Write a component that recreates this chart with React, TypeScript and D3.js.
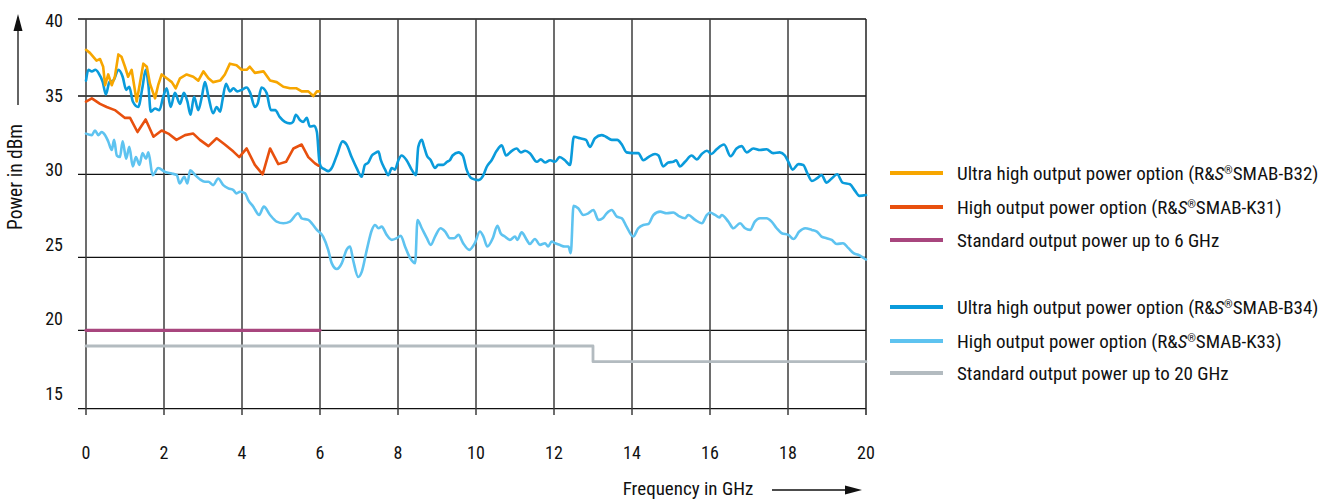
import React, { useEffect, useRef } from 'react';
import * as d3 from 'd3';

type Pt = [number, number];

// Frequency in GHz, power in dBm
const b32: Pt[] = [
  [0, 38.0], [0.1, 37.8], [0.27, 37.3], [0.36, 37.4], [0.44, 36.9], [0.49, 35.7], [0.57, 36.4], [0.66, 35.7],
  [0.74, 36.25], [0.83, 37.7], [0.91, 37.55], [1.0, 36.9], [1.08, 36.25], [1.17, 36.7], [1.3, 34.65], [1.38, 35.8],
  [1.47, 37.1], [1.56, 36.9], [1.64, 35.8], [1.77, 34.85], [1.85, 35.7], [1.94, 36.4], [2.07, 36.15], [2.2, 35.9],
  [2.3, 35.5], [2.41, 36.15], [2.58, 36.4], [2.75, 36.25], [2.88, 36.0], [3.01, 36.6], [3.14, 36.15], [3.26, 35.9],
  [3.44, 36.0], [3.56, 36.4], [3.69, 37.1], [3.86, 37.0], [3.99, 36.7], [4.12, 36.7], [4.2, 36.9], [4.33, 36.5],
  [4.55, 36.6], [4.72, 36.0], [4.89, 35.9], [5.06, 35.6], [5.23, 35.5], [5.4, 35.5], [5.53, 35.3], [5.7, 35.3],
  [5.83, 35.0], [5.92, 35.3], [5.98, 35.3],
];

const k31: Pt[] = [
  [0, 34.64], [0.15, 34.85], [0.36, 34.5], [0.53, 34.3], [0.74, 34.1], [1.0, 33.6], [1.13, 33.6], [1.32, 32.7],
  [1.53, 33.5], [1.73, 32.4], [1.94, 32.8], [2.11, 32.6], [2.32, 32.2], [2.54, 32.5], [2.75, 32.6], [2.92, 32.2],
  [3.14, 31.8], [3.35, 32.3], [3.56, 31.9], [3.78, 31.45], [3.93, 31.1], [4.12, 31.65], [4.33, 30.6], [4.53, 30.0],
  [4.72, 31.65], [4.93, 30.65], [5.13, 30.8], [5.32, 31.65], [5.53, 31.9], [5.7, 31.1], [5.87, 30.7], [5.96, 30.55],
];

const std6: Pt[] = [[0, 20], [6, 20]];

const b34: Pt[] = [
  [0, 36.0], [0.06, 36.7], [0.15, 36.6], [0.24, 36.7], [0.32, 36.5], [0.43, 35.9], [0.51, 35.1], [0.6, 35.9],
  [0.7, 36.0], [0.83, 36.7], [0.94, 36.25], [1.03, 35.4], [1.11, 35.6], [1.2, 34.65], [1.34, 34.3], [1.45, 35.6],
  [1.53, 36.7], [1.6, 35.7], [1.66, 34.0], [1.77, 34.2], [1.88, 34.1], [1.98, 34.95], [2.07, 35.5], [2.17, 34.3],
  [2.28, 35.2], [2.41, 34.5], [2.51, 35.2], [2.6, 34.65], [2.68, 33.8], [2.77, 34.95], [2.88, 34.1], [2.97, 34.95],
  [3.05, 35.9], [3.14, 34.95], [3.26, 33.9], [3.35, 34.3], [3.44, 34.0], [3.5, 34.75], [3.59, 35.8], [3.69, 35.3],
  [3.78, 35.5], [3.88, 35.3], [3.99, 35.4], [4.12, 35.55], [4.21, 35.2], [4.33, 34.3], [4.4, 34.5], [4.5, 35.55],
  [4.63, 35.2], [4.74, 34.1], [4.85, 34.1], [4.97, 33.65], [5.1, 33.35], [5.23, 33.25], [5.31, 33.35], [5.38, 33.8],
  [5.49, 33.45], [5.57, 33.35], [5.66, 33.6], [5.74, 33.05], [5.85, 33.1], [5.92, 32.7], [5.98, 30.9], [6.02, 30.5],
  [6.13, 30.3], [6.21, 30.2], [6.3, 30.4], [6.43, 31.2], [6.58, 32.1], [6.68, 31.9], [6.81, 31.1], [6.94, 30.4],
  [7.07, 29.85], [7.15, 30.6], [7.24, 30.75], [7.33, 31.2], [7.41, 31.35], [7.5, 31.45], [7.56, 30.9], [7.67, 30.3],
  [7.75, 29.95], [7.84, 30.4], [7.92, 30.3], [8.01, 30.9], [8.09, 31.2], [8.22, 30.9], [8.35, 30.3], [8.46, 29.95],
  [8.52, 31.75], [8.61, 32.2], [8.67, 31.75], [8.74, 31.2], [8.84, 30.9], [8.95, 30.4], [9.03, 30.6], [9.16, 30.6],
  [9.26, 30.8], [9.33, 30.9], [9.4, 31.2], [9.55, 31.4], [9.66, 31.2], [9.76, 30.3], [9.89, 29.75], [10.06, 29.65],
  [10.19, 29.95], [10.27, 30.45], [10.4, 30.9], [10.53, 31.5], [10.66, 31.85], [10.77, 31.2], [10.92, 31.5], [11.04, 31.65],
  [11.15, 31.4], [11.26, 31.5], [11.38, 31.35], [11.56, 30.8], [11.66, 30.95], [11.77, 30.75], [11.9, 30.9], [12.03, 30.8],
  [12.14, 31.1], [12.28, 30.9], [12.41, 30.6], [12.51, 32.4], [12.67, 32.3], [12.82, 32.2], [12.92, 31.75], [13.05, 32.3],
  [13.22, 32.5], [13.33, 32.4], [13.48, 32.2], [13.62, 32.2], [13.74, 31.9], [13.86, 31.4], [14.02, 31.35], [14.16, 31.35],
  [14.29, 30.9], [14.42, 31.1], [14.59, 31.3], [14.68, 31.2], [14.8, 30.5], [14.93, 30.75], [15.06, 30.8], [15.13, 30.9],
  [15.23, 30.5], [15.36, 30.8], [15.53, 31.2], [15.66, 30.95], [15.79, 31.3], [15.92, 31.5], [16.04, 31.3], [16.17, 31.6],
  [16.36, 31.9], [16.53, 31.15], [16.68, 31.65], [16.81, 31.8], [16.94, 31.4], [17.11, 31.65], [17.28, 31.55], [17.45, 31.6],
  [17.62, 31.35], [17.79, 31.4], [17.92, 31.2], [18.01, 30.8], [18.12, 30.3], [18.27, 30.65], [18.39, 30.6], [18.5, 30.05],
  [18.61, 29.6], [18.74, 29.75], [18.86, 29.95], [18.99, 29.5], [19.12, 29.75], [19.26, 30.0], [19.4, 29.5], [19.59, 29.4],
  [19.72, 29.0], [19.83, 28.7], [20, 28.75],
];

const k33: Pt[] = [
  [0, 32.6], [0.15, 32.5], [0.23, 32.8], [0.32, 32.5], [0.4, 32.7], [0.49, 32.5], [0.57, 32.1], [0.66, 31.55],
  [0.72, 32.2], [0.79, 31.2], [0.87, 31.1], [0.94, 32.1], [1.03, 31.0], [1.11, 31.75], [1.2, 30.5], [1.28, 31.1],
  [1.37, 30.6], [1.45, 31.35], [1.54, 31.0], [1.6, 31.4], [1.71, 29.95], [1.85, 30.4], [2.03, 30.15], [2.2, 30.05],
  [2.33, 29.95], [2.4, 29.45], [2.52, 29.85], [2.6, 29.45], [2.67, 30.25], [2.8, 29.95], [2.92, 29.7], [3.05, 29.55],
  [3.14, 29.55], [3.26, 29.35], [3.39, 29.75], [3.52, 29.35], [3.65, 29.15], [3.78, 29.05], [3.86, 28.85], [3.95, 28.95],
  [4.08, 28.85], [4.16, 28.45], [4.29, 28.05], [4.44, 27.55], [4.56, 28.05], [4.72, 27.55], [4.89, 27.15], [5.06, 27.05],
  [5.23, 27.15], [5.44, 27.65], [5.53, 27.35], [5.7, 27.25], [5.79, 27.05], [5.92, 26.65], [6.08, 26.25], [6.21, 25.45],
  [6.3, 24.6], [6.43, 24.2], [6.56, 24.6], [6.68, 25.45], [6.77, 25.65], [6.85, 24.8], [6.98, 23.65], [7.07, 24.0],
  [7.2, 25.45], [7.33, 26.65], [7.41, 26.95], [7.5, 26.75], [7.58, 26.85], [7.71, 26.35], [7.84, 26.05], [7.97, 26.15],
  [8.07, 26.3], [8.18, 25.65], [8.31, 24.95], [8.44, 24.6], [8.5, 27.25], [8.61, 26.75], [8.74, 26.15], [8.84, 25.75],
  [8.95, 26.25], [9.09, 26.75], [9.21, 26.55], [9.33, 26.15], [9.44, 26.15], [9.55, 26.35], [9.67, 25.85], [9.83, 25.45],
  [9.97, 25.85], [10.1, 26.55], [10.19, 26.25], [10.29, 25.65], [10.43, 26.15], [10.55, 26.9], [10.63, 26.45], [10.74, 26.25],
  [10.87, 26.05], [11.0, 26.25], [11.06, 26.05], [11.17, 26.5], [11.3, 26.05], [11.38, 25.8], [11.51, 26.1], [11.64, 25.75],
  [11.77, 25.85], [11.85, 25.65], [11.94, 25.95], [12.03, 25.85], [12.14, 25.75], [12.28, 25.65], [12.37, 25.65], [12.43, 25.25],
  [12.5, 28.1], [12.62, 27.95], [12.75, 27.55], [12.88, 27.65], [13.01, 27.85], [13.14, 27.25], [13.25, 27.35], [13.35, 27.65],
  [13.48, 27.85], [13.61, 27.45], [13.74, 27.35], [13.86, 26.85], [14.03, 26.25], [14.16, 26.75], [14.29, 26.95], [14.42, 27.0],
  [14.55, 27.55], [14.72, 27.75], [14.89, 27.65], [15.06, 27.7], [15.19, 27.5], [15.36, 27.35], [15.44, 27.55], [15.62, 27.25],
  [15.79, 27.05], [15.92, 27.55], [16.0, 27.7], [16.13, 27.55], [16.24, 27.4], [16.3, 27.55], [16.47, 27.15], [16.6, 26.75],
  [16.77, 27.05], [16.9, 26.75], [17.03, 26.65], [17.15, 27.15], [17.28, 27.35], [17.45, 27.35], [17.58, 27.15], [17.71, 26.75],
  [17.84, 26.45], [18.01, 26.35], [18.14, 26.1], [18.29, 26.55], [18.44, 26.75], [18.61, 26.65], [18.74, 26.55], [18.86, 26.25],
  [18.99, 26.15], [19.12, 26.05], [19.25, 25.8], [19.41, 25.85], [19.55, 25.55], [19.68, 25.25], [19.8, 25.15], [20, 24.85],
];

const std20: Pt[] = [[0, 19], [13, 19], [13, 18], [20, 18]];

const xTicks = [0, 2, 4, 6, 8, 10, 12, 14, 16, 18, 20];
const yTicks = [15, 20, 25, 30, 35, 40];

const legendLabels = [
  'Ultra high output power option (R&S®SMAB-B32)',
  'High output power option (R&S®SMAB-K31)',
  'Standard output power up to 6 GHz',
  '',
  'Ultra high output power option (R&S®SMAB-B34)',
  'High output power option (R&S®SMAB-K33)',
  'Standard output power up to 20 GHz',
];
const legendColors = ['#f7a600', '#e8500e', '#a8467e', '', '#0a9bdb', '#5ec3f0', '#b3bbc0'];

const FONT = "'Liberation Sans Narrow', 'Roboto Condensed', 'DejaVu Sans Condensed', 'Arial Narrow', sans-serif";

const App = () => {
  const ref = useRef<SVGSVGElement | null>(null);

  useEffect(() => {
    if (!ref.current) return;
    const svg = d3.select(ref.current);
    svg.selectAll('*').remove();
    svg.style('font-family', FONT).style('font-stretch', 'condensed');

    const x = d3.scaleLinear().domain([0, 20]).range([86, 866]);
    // the printed grid is not quite even, follow it piecewise
    const y = d3.scaleLinear().domain(yTicks).range([408.7, 330.3, 257.3, 174.3, 96, 19]);
    const yLab = d3.scaleLinear().domain([15, 40]).range([400, 27]);

    // grid
    const grid = svg.append('g');
    grid.selectAll('line.h')
      .data(yTicks)
      .enter()
      .append('line')
      .attr('x1', 78).attr('x2', x(20))
      .attr('y1', d => y(d)).attr('y2', d => y(d))
      .attr('stroke', '#111').attr('stroke-width', 1.3);
    grid.selectAll('line.v')
      .data(xTicks)
      .enter()
      .append('line')
      .attr('x1', d => x(d)).attr('x2', d => x(d))
      .attr('y1', y(40)).attr('y2', 415)
      .attr('stroke', d => (d === 20 ? '#222' : '#3c3c3c'))
      .attr('stroke-width', 1.5);

    // tick labels
    svg.append('g').selectAll('text')
      .data(yTicks)
      .enter()
      .append('text')
      .attr('x', 63).attr('y', d => yLab(d))
      .attr('text-anchor', 'end')
      .style('font-size', '18px')
      .attr('fill', '#111')
      .text(d => d);
    svg.append('g').selectAll('text')
      .data(xTicks)
      .enter()
      .append('text')
      .attr('x', d => x(d)).attr('y', 459)
      .attr('text-anchor', 'middle')
      .style('font-size', '18px')
      .attr('fill', '#111')
      .text(d => d);

    // axis titles + arrows
    svg.append('text')
      .attr('transform', 'translate(22,177) rotate(-90)')
      .attr('text-anchor', 'middle')
      .style('font-size', '19.5px')
      .attr('fill', '#111')
      .text('Power in dBm');
    svg.append('line').attr('x1', 18).attr('x2', 18).attr('y1', 105).attr('y2', 28)
      .attr('stroke', '#111').attr('stroke-width', 1.3);
    svg.append('path').attr('d', 'M18,14 L13.5,31 L22.5,31 Z').attr('fill', '#111');

    svg.append('text')
      .attr('x', 688).attr('y', 494.5)
      .attr('text-anchor', 'middle')
      .style('font-size', '19px')
      .attr('fill', '#111')
      .text('Frequency in GHz');
    svg.append('line').attr('x1', 772).attr('x2', 848).attr('y1', 490).attr('y2', 490)
      .attr('stroke', '#111').attr('stroke-width', 1.3);
    svg.append('path').attr('d', 'M862,490 L845,485.5 L845,494.5 Z').attr('fill', '#111');

    // series
    const curve = d3.line<Pt>().x(d => x(d[0])).y(d => y(d[1])).curve(d3.curveMonotoneX);
    const step = d3.line<Pt>().x(d => x(d[0])).y(d => y(d[1]));
    const series: { data: Pt[]; color: string; w: number; gen: typeof curve }[] = [
      { data: std20, color: legendColors[6], w: 2.8, gen: step },
      { data: std6, color: legendColors[2], w: 3.2, gen: step },
      { data: k33, color: legendColors[5], w: 2.6, gen: curve },
      { data: b34, color: legendColors[4], w: 2.6, gen: curve },
      { data: k31, color: legendColors[1], w: 2.6, gen: step },
      { data: b32, color: legendColors[0], w: 2.6, gen: step },
    ];
    series.forEach(s => {
      svg.append('path')
        .datum(s.data)
        .attr('d', s.gen)
        .attr('fill', 'none')
        .attr('stroke', s.color)
        .attr('stroke-width', s.w)
        .attr('stroke-linejoin', 'round')
        .attr('stroke-linecap', 'round');
    });

    // legend
    const rowY = [173, 207, 240, 273, 307, 341, 373];
    const lg = svg.append('g');
    legendLabels.forEach((label, i) => {
      if (!label) return;
      lg.append('line')
        .attr('x1', 890).attr('x2', 943)
        .attr('y1', rowY[i]).attr('y2', rowY[i])
        .attr('stroke', legendColors[i])
        .attr('stroke-width', 3.8);
      const t = lg.append('text')
        .attr('x', 957).attr('y', rowY[i] + 7)
        .style('font-size', '19px')
        .attr('fill', '#111');
      const m = label.match(/^(.*R&)S®(.*)$/);
      if (m) {
        t.append('tspan').text(m[1]);
        t.append('tspan').style('font-style', 'italic').text('S');
        t.append('tspan').attr('dy', -6).style('font-size', '11px').text('®');
        t.append('tspan').attr('dy', 6).text(m[2]);
      } else {
        t.text(label);
      }
    });
  }, []);

  return (
    <svg
      ref={ref}
      width={1331}
      height={500}
      style={{ position: 'absolute', left: 0, top: 0, background: '#fff' }}
    />
  );
};

export default App;
